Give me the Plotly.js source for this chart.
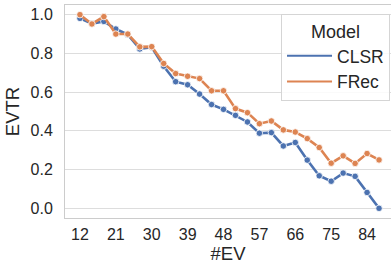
<!DOCTYPE html>
<html>
<head>
<meta charset="utf-8">
<script src="https://cdn.plot.ly/plotly-3.0.1.min.js"></script>
<style>html,body{margin:0;padding:0;background:#fff;}#chart{width:391px;height:267px;}</style>
</head>
<body>
<div id="chart"></div>
<script>
const numEV = [12,15,18,21,24,27,30,33,36,39,42,45,48,51,54,57,60,63,66,69,72,75,78,81,84,87];
const clsr = [0.981,0.954,0.965,0.926,0.897,0.823,0.832,0.734,0.654,0.638,0.590,0.536,0.511,0.480,0.446,0.388,0.391,0.322,0.340,0.249,0.168,0.140,0.182,0.165,0.082,0.000];
const frec = [1.000,0.952,0.990,0.900,0.900,0.834,0.835,0.748,0.696,0.682,0.670,0.607,0.607,0.515,0.494,0.437,0.451,0.405,0.394,0.360,0.314,0.233,0.271,0.232,0.283,0.250];
const xTicks = [12,21,30,39,48,57,66,75,84];
const yTicks = [0.0,0.2,0.4,0.6,0.8,1.0];
const seriesNames = ['CLSR','FRec'];
const colors = ['#4c72b0','#dd8452'];

const font = 'Liberation Sans, Arial, sans-serif';
const seriesData = [clsr, frec];
const traces = [];
seriesData.forEach((vals, i) => {
  traces.push({
    x: numEV, y: vals, type: 'scatter', mode: 'lines+markers',
    name: seriesNames[i], showlegend: false,
    line: {color: colors[i], width: 2.6},
    marker: {color: colors[i], size: 6.5, line: {color: '#ffffff', width: 0.8}}
  });
});
seriesData.forEach((vals, i) => {
  traces.push({
    x: [null], y: [null], type: 'scatter', mode: 'lines',
    name: seriesNames[i], legendgroup: seriesNames[i], showlegend: true,
    line: {color: colors[i], width: 2}
  });
});

const layout = {
  width: 391, height: 267,
  margin: {l: 65, r: 0, t: 5, b: 49},
  paper_bgcolor: '#ffffff', plot_bgcolor: '#ffffff',
  font: {family: font, size: 16, color: '#262626'},
  xaxis: {
    range: [8.25, 90.0], tickvals: xTicks, ticktext: xTicks.map(String),
    showgrid: false, zeroline: false,
    showline: true, mirror: true, linecolor: '#cccccc', linewidth: 1,
    ticks: 'outside', ticklen: 2, tickcolor: 'rgba(0,0,0,0)',
    tickfont: {size: 16, family: font, color: '#262626'},
    title: {text: '#EV', font: {size: 18.5, family: font, color: '#262626'}, standoff: 3},
    automargin: false
  },
  yaxis: {
    range: [-0.05, 1.05], tickvals: yTicks, ticktext: yTicks.map(v => v.toFixed(1)),
    showgrid: true, gridcolor: '#dddddd', gridwidth: 1, zeroline: false,
    showline: true, linecolor: '#cccccc', linewidth: 1,
    ticks: 'outside', ticklen: 8, tickcolor: 'rgba(0,0,0,0)',
    tickfont: {size: 16, family: font, color: '#262626'},
    title: {text: 'EVTR', font: {size: 18.5, family: font, color: '#262626'}, standoff: 6},
    automargin: false
  },
  legend: {
    x: 0.997, xanchor: 'right', y: 0.96, yanchor: 'top',
    bgcolor: 'rgba(255,255,255,0.85)', bordercolor: '#d5d5d5', borderwidth: 1,
    font: {size: 17.5, family: font, color: '#262626'},
    title: {text: 'Model', side: 'top center', font: {size: 18, family: font, color: '#262626'}},
    traceorder: 'grouped', tracegroupgap: 0,
    itemwidth: 45
  },
  showlegend: true
};

Plotly.newPlot('chart', traces, layout, {displayModeBar: false, staticPlot: true});
</script>
</body>
</html>
